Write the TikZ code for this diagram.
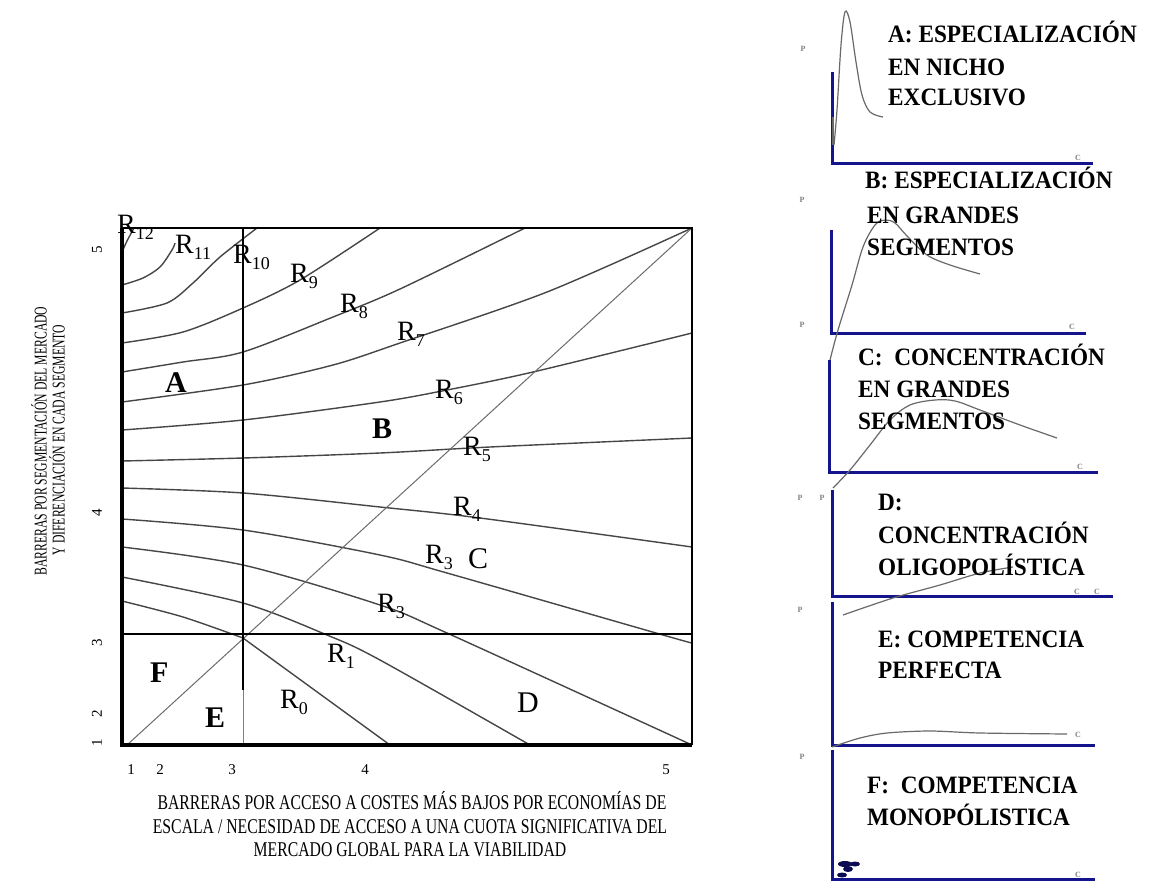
\documentclass[tikz,border=0pt]{standalone}
\usepackage{fontspec}
\setmainfont{Liberation Serif}
\newfontfamily\xlabfont[FakeStretch=0.75]{Liberation Serif}
\newfontfamily\ylabfont[FakeStretch=0.65]{Liberation Serif}
\newfontfamily\panfont[FakeStretch=0.93]{Liberation Serif}
\definecolor{navy}{RGB}{20,20,140}
\definecolor{crv}{RGB}{70,70,70}
\definecolor{pcrv}{RGB}{105,105,105}
\newcommand\Rl[1]{R\raisebox{-6pt}{\fontsize{18}{18}\selectfont #1}}
\tikzset{
  chart/.style={draw=crv, line width=1.4pt},
  rlab/.style={inner sep=0pt, anchor=base west, font=\fontsize{28}{28}\selectfont},
  reg/.style={inner sep=0pt, anchor=base west, font=\fontsize{30}{30}\selectfont\bfseries},
  regn/.style={inner sep=0pt, anchor=base west, font=\fontsize{30}{30}\selectfont},
  ptext/.style={inner sep=0pt, anchor=base west, font=\panfont\bfseries\fontsize{25}{25}\selectfont},
  paxis/.style={draw=navy, line width=3pt},
  pcurve/.style={draw=pcrv, line width=1.2pt},
  tinyl/.style={inner sep=0pt, text=gray, font=\fontsize{8}{8}\selectfont\bfseries},
  tick/.style={inner sep=0pt, font=\fontsize{15}{15}\selectfont},
  xlab/.style={inner sep=0pt, anchor=base, font=\xlabfont\fontsize{21}{21}\selectfont},
  ylab/.style={inner sep=0pt, anchor=center, rotate=90, font=\ylabfont\fontsize{18}{18}\selectfont}
}
\begin{document}
\begin{tikzpicture}[x=1pt,y=-1pt]
\useasboundingbox (0,0) rectangle (1157,881);
\fill[white] (0,0) rectangle (1157,881);

% ---------- main chart curves ----------
\begin{scope}
\clip (122,228) rectangle (692,745);
\draw[chart] plot[smooth] coordinates {(122,252) (127,241) (134,228)};
\draw[chart] plot[smooth] coordinates {(122,285) (143,278) (160,267) (172,250) (175,243)};
\draw[chart] plot[smooth] coordinates {(122,313) (167,303) (193,283) (220,257) (257,228)};
\draw[chart] plot[smooth] coordinates {(122,343) (183,332) (243,308) (300,280) (380,228)};
\draw[chart] plot[smooth] coordinates {(122,372) (183,362) (243,352) (333,317) (400,289) (525,228)};
\draw[chart] plot[smooth] coordinates {(122,402) (243,385) (333,365) (400,343) (547,292) (692,228)};
\draw[chart] plot[smooth] coordinates {(122,430) (243,420) (380,402) (447,390) (533,372) (692,333)};
\draw[chart] plot[smooth] coordinates {(122,461) (243,458) (380,453) (490,447) (692,438)};
\draw[chart] plot[smooth] coordinates {(122,488) (243,493) (380,507) (480,518) (692,547)};
\draw[chart] plot[smooth] coordinates {(122,519) (243,530) (380,555) (447,573) (663,635) (692,643)};
\draw[chart] plot[smooth] coordinates {(122,547) (243,565) (380,605) (447,633) (692,745)};
\draw[chart] plot[smooth] coordinates {(122,577) (243,603) (327,635) (380,660) (530,745)};
\draw[chart] plot[smooth] coordinates {(122,601) (183,617) (243,638)} -- (390,745);
% diagonal
\draw[line width=1pt, draw=gray!85!black] (127,745) -- (692,228);
\end{scope}

% grid lines
\draw[line width=1.8pt] (122,634) -- (692,634);
\draw[line width=1.8pt] (243,228) -- (243,690);
\draw[line width=1pt, draw=gray] (243,690) -- (243,745);

% frame
\draw[line width=2pt] (122,228) -- (692,228) -- (692,745);
\draw[line width=3.5pt] (122,228) -- (122,745) -- (692,745);

% ---------- R labels ----------
\node[rlab] (r12) at (117,233) {\Rl{12}};
\node[rlab] (r11) at (175,253) {\Rl{11}};
\node[rlab] (r10) at (233,263) {\Rl{10}};
\node[rlab] (r9) at (290,282) {\Rl{9}};
\node[rlab] (r8) at (340,312) {\Rl{8}};
\node[rlab] (r7) at (397,340) {\Rl{7}};
\node[rlab] (r6) at (435,398) {\Rl{6}};
\node[rlab] (r5) at (463,455) {\Rl{5}};
\node[rlab] (r4) at (453,515) {\Rl{4}};
\node[rlab] (r3) at (425,563) {\Rl{3}};
\node[rlab] (r3b) at (377,612) {\Rl{3}};
\node[rlab] (r1) at (327,662) {\Rl{1}};
\node[rlab] (r0) at (280,708) {\Rl{0}};

\node[reg] (la) at (165,392) {A};
\node[reg] (lb) at (372,438) {B};
\node[regn] (lc) at (468,568) {C};
\node[regn] (ld) at (517,712) {D};
\node[reg] (le) at (205,727) {E};
\node[reg] (lf) at (150,682) {F};

% ---------- ticks ----------
\node[tick, rotate=90] (y5) at (97,250) {5};
\node[tick, rotate=90] (y4) at (97,513) {4};
\node[tick, rotate=90] (y3) at (97,643) {3};
\node[tick, rotate=90] (y2) at (97,714) {2};
\node[tick, rotate=90] (y1) at (97,743) {1};
\node[tick, anchor=base] (x1) at (131,774) {1};
\node[tick, anchor=base] (x2) at (160,774) {2};
\node[tick, anchor=base] (x3) at (232,774) {3};
\node[tick, anchor=base] (x4) at (365,774) {4};
\node[tick, anchor=base] (x5) at (666,774) {5};

% ---------- axis labels ----------
\node[xlab] (xl1) at (412,809) {BARRERAS POR ACCESO A COSTES MÁS BAJOS POR ECONOMÍAS DE};
\node[xlab] (xl2) at (410,833) {ESCALA / NECESIDAD DE ACCESO A UNA CUOTA SIGNIFICATIVA DEL};
\node[xlab] (xl3) at (410,856) {MERCADO GLOBAL PARA LA VIABILIDAD};
\node[ylab] (yl1) at (39,441) {BARRERAS POR SEGMENTACIÓN DEL MERCADO};
\node[ylab] (yl2) at (57,440) {Y DIFERENCIACIÓN EN CADA SEGMENTO};

% ---------- right panels ----------
% A
\draw[paxis] (832,72) -- (832,163) -- (1093,163);
\draw[pcrv, line width=2pt] (833,117) -- (833,145);
\draw[pcurve] plot[smooth, tension=0.55] coordinates {(834,145) (837,110) (841,45) (845,12) (850,22) (856,62) (862,95) (870,112) (883,117)};
\node[tinyl] (pa) at (803,49) {P};
\node[tinyl] (ca) at (1078,158) {C};
\node[ptext] (ta1) at (888,42) {A: ESPECIALIZACIÓN};
\node[ptext] (ta2) at (888,75) {EN NICHO};
\node[ptext] (ta3) at (888,105) {EXCLUSIVO};

% B
\draw[paxis] (831,230) -- (831,333) -- (1086,333);
\draw[pcurve] plot[smooth, tension=0.55] coordinates {(830,360) (838,330) (852,285) (863,247) (875,225) (885,220) (895,223) (907,236) (927,255) (950,265) (980,274)};
\node[tinyl] (pb1) at (802,200) {P};
\node[tinyl] (pb2) at (802,325) {P};
\node[tinyl] (cb) at (1072,327) {C};
\node[ptext] (tb1) at (865,188) {B: ESPECIALIZACIÓN};
\node[ptext] (tb2) at (867,223) {EN GRANDES};
\node[ptext] (tb3) at (867,255) {SEGMENTOS};

% C
\draw[paxis] (829,360) -- (829,472) -- (1098,472);
\draw[pcurve] plot[smooth, tension=0.55] coordinates {(833,488) (850,470) (870,445) (890,420) (910,405) (935,400) (955,401) (980,410) (1020,425) (1057,438)};
\node[tinyl] (cc) at (1080,467) {C};
\node[ptext] (tc1) at (858,365) {C:\ \ CONCENTRACIÓN};
\node[ptext] (tc2) at (858,397) {EN GRANDES};
\node[ptext] (tc3) at (858,429) {SEGMENTOS};

% D
\draw[paxis] (832,490) -- (832,596) -- (1113,596);
\draw[pcurve] plot[smooth, tension=0.5] coordinates {(843,615) (893,598) (940,585) (980,573) (1013,567)};
\node[tinyl] (pd1) at (800,498) {P};
\node[tinyl] (pd2) at (822,498) {P};
\node[tinyl] (cd1) at (1077,592) {C};
\node[tinyl] (cd2) at (1097,592) {C};
\node[ptext] (td1) at (878,510) {D:};
\node[ptext] (td2) at (878,543) {CONCENTRACIÓN};
\node[ptext] (td3) at (878,575) {OLIGOPOLÍSTICA};

% E
\draw[paxis] (832,602) -- (832,745) -- (1095,745);
\draw[pcurve] plot[smooth, tension=0.5] coordinates {(832,747) (860,738) (887,733) (930,731) (980,733) (1067,734)};
\node[tinyl] (pe) at (800,610) {P};
\node[tinyl] (ce) at (1078,735) {C};
\node[ptext] (te1) at (878,647) {E: COMPETENCIA};
\node[ptext] (te2) at (878,678) {PERFECTA};

% F
\draw[paxis] (832,750) -- (832,879) -- (1095,879);
\fill[navy!60!black] (845,864) ellipse (7pt and 3pt);
\fill[navy!60!black] (855,864) ellipse (5pt and 2.5pt);
\fill[navy!60!black] (848,869) ellipse (5pt and 3pt);
\fill[navy!60!black] (842,875) ellipse (5pt and 2.5pt);
\node[tinyl] (pf) at (802,757) {P};
\node[tinyl] (cf) at (1078,875) {C};
\node[ptext] (tf1) at (867,793) {F:\ \ COMPETENCIA};
\node[ptext] (tf2) at (867,825) {MONOPÓLISTICA};
\end{tikzpicture}
\end{document}
